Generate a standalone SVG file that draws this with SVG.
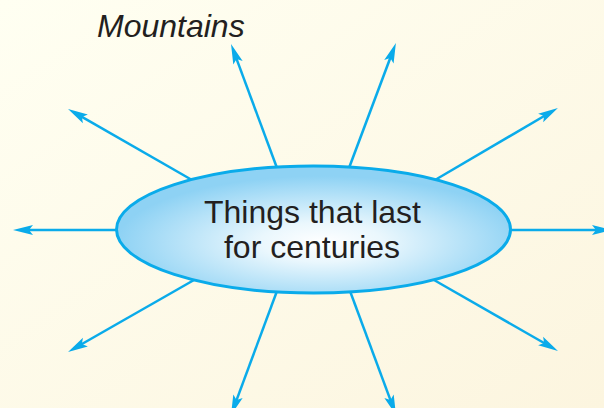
<svg xmlns="http://www.w3.org/2000/svg" width="604" height="408" viewBox="0 0 604 408">
  <style>
    .conn line { stroke: #0AABEA; stroke-width: 2.5; fill: none; marker-end: url(#arrow); }
    .node-shape { stroke: #0AABEA; stroke-width: 3; fill: url(#ellFill); }
    .lbl { font-family: "Liberation Sans", Arial, sans-serif; font-size: 32px; fill: #231F20; }
  </style>
  <defs>
    <linearGradient id="bg" x1="0" y1="0" x2="1" y2="1">
      <stop offset="0" stop-color="#FFFFF2"/>
      <stop offset="1" stop-color="#FCF5DF"/>
    </linearGradient>
    <radialGradient id="ellFill" cx="0.52" cy="0.6" r="0.52">
      <stop offset="0" stop-color="#FFFFFF"/>
      <stop offset="0.3" stop-color="#EAF7FD"/>
      <stop offset="1" stop-color="#8ED2F4"/>
    </radialGradient>
    <marker id="arrow" markerUnits="userSpaceOnUse" markerWidth="30" markerHeight="20" refX="0" refY="0" orient="auto" overflow="visible">
      <path d="M10,0 L-10,-5 L-6,0 L-10,5 Z" fill="#0AABEA"/>
    </marker>
  </defs>
  <rect x="0" y="0" width="604" height="408" fill="url(#bg)"/>
  <g id="connectors" class="conn">
    <line x1="277" y1="168" x2="234.5" y2="53.4"/>
    <line x1="192" y1="180" x2="76.7" y2="113.9"/>
    <line x1="349" y1="168" x2="392.4" y2="52.3"/>
    <line x1="435" y1="180" x2="549.3" y2="113"/>
    <line x1="118" y1="230" x2="23" y2="230"/>
    <line x1="509" y1="230" x2="602" y2="230"/>
    <line x1="194" y1="280" x2="76.7" y2="347"/>
    <line x1="277" y1="291" x2="234.5" y2="405.6"/>
    <line x1="350" y1="291" x2="392.5" y2="405.6"/>
    <line x1="434" y1="280" x2="549.3" y2="346"/>
  </g>
  <g id="node-center">
    <ellipse class="node-shape" cx="313.5" cy="229.5" rx="197" ry="63.5"/>
    <text class="lbl" x="312.5" y="223" text-anchor="middle">Things that last</text>
    <text class="lbl" x="312" y="258" text-anchor="middle">for centuries</text>
  </g>
  <g id="label-mountains">
    <text class="lbl" x="97" y="37" font-style="italic">Mountains</text>
  </g>
</svg>
